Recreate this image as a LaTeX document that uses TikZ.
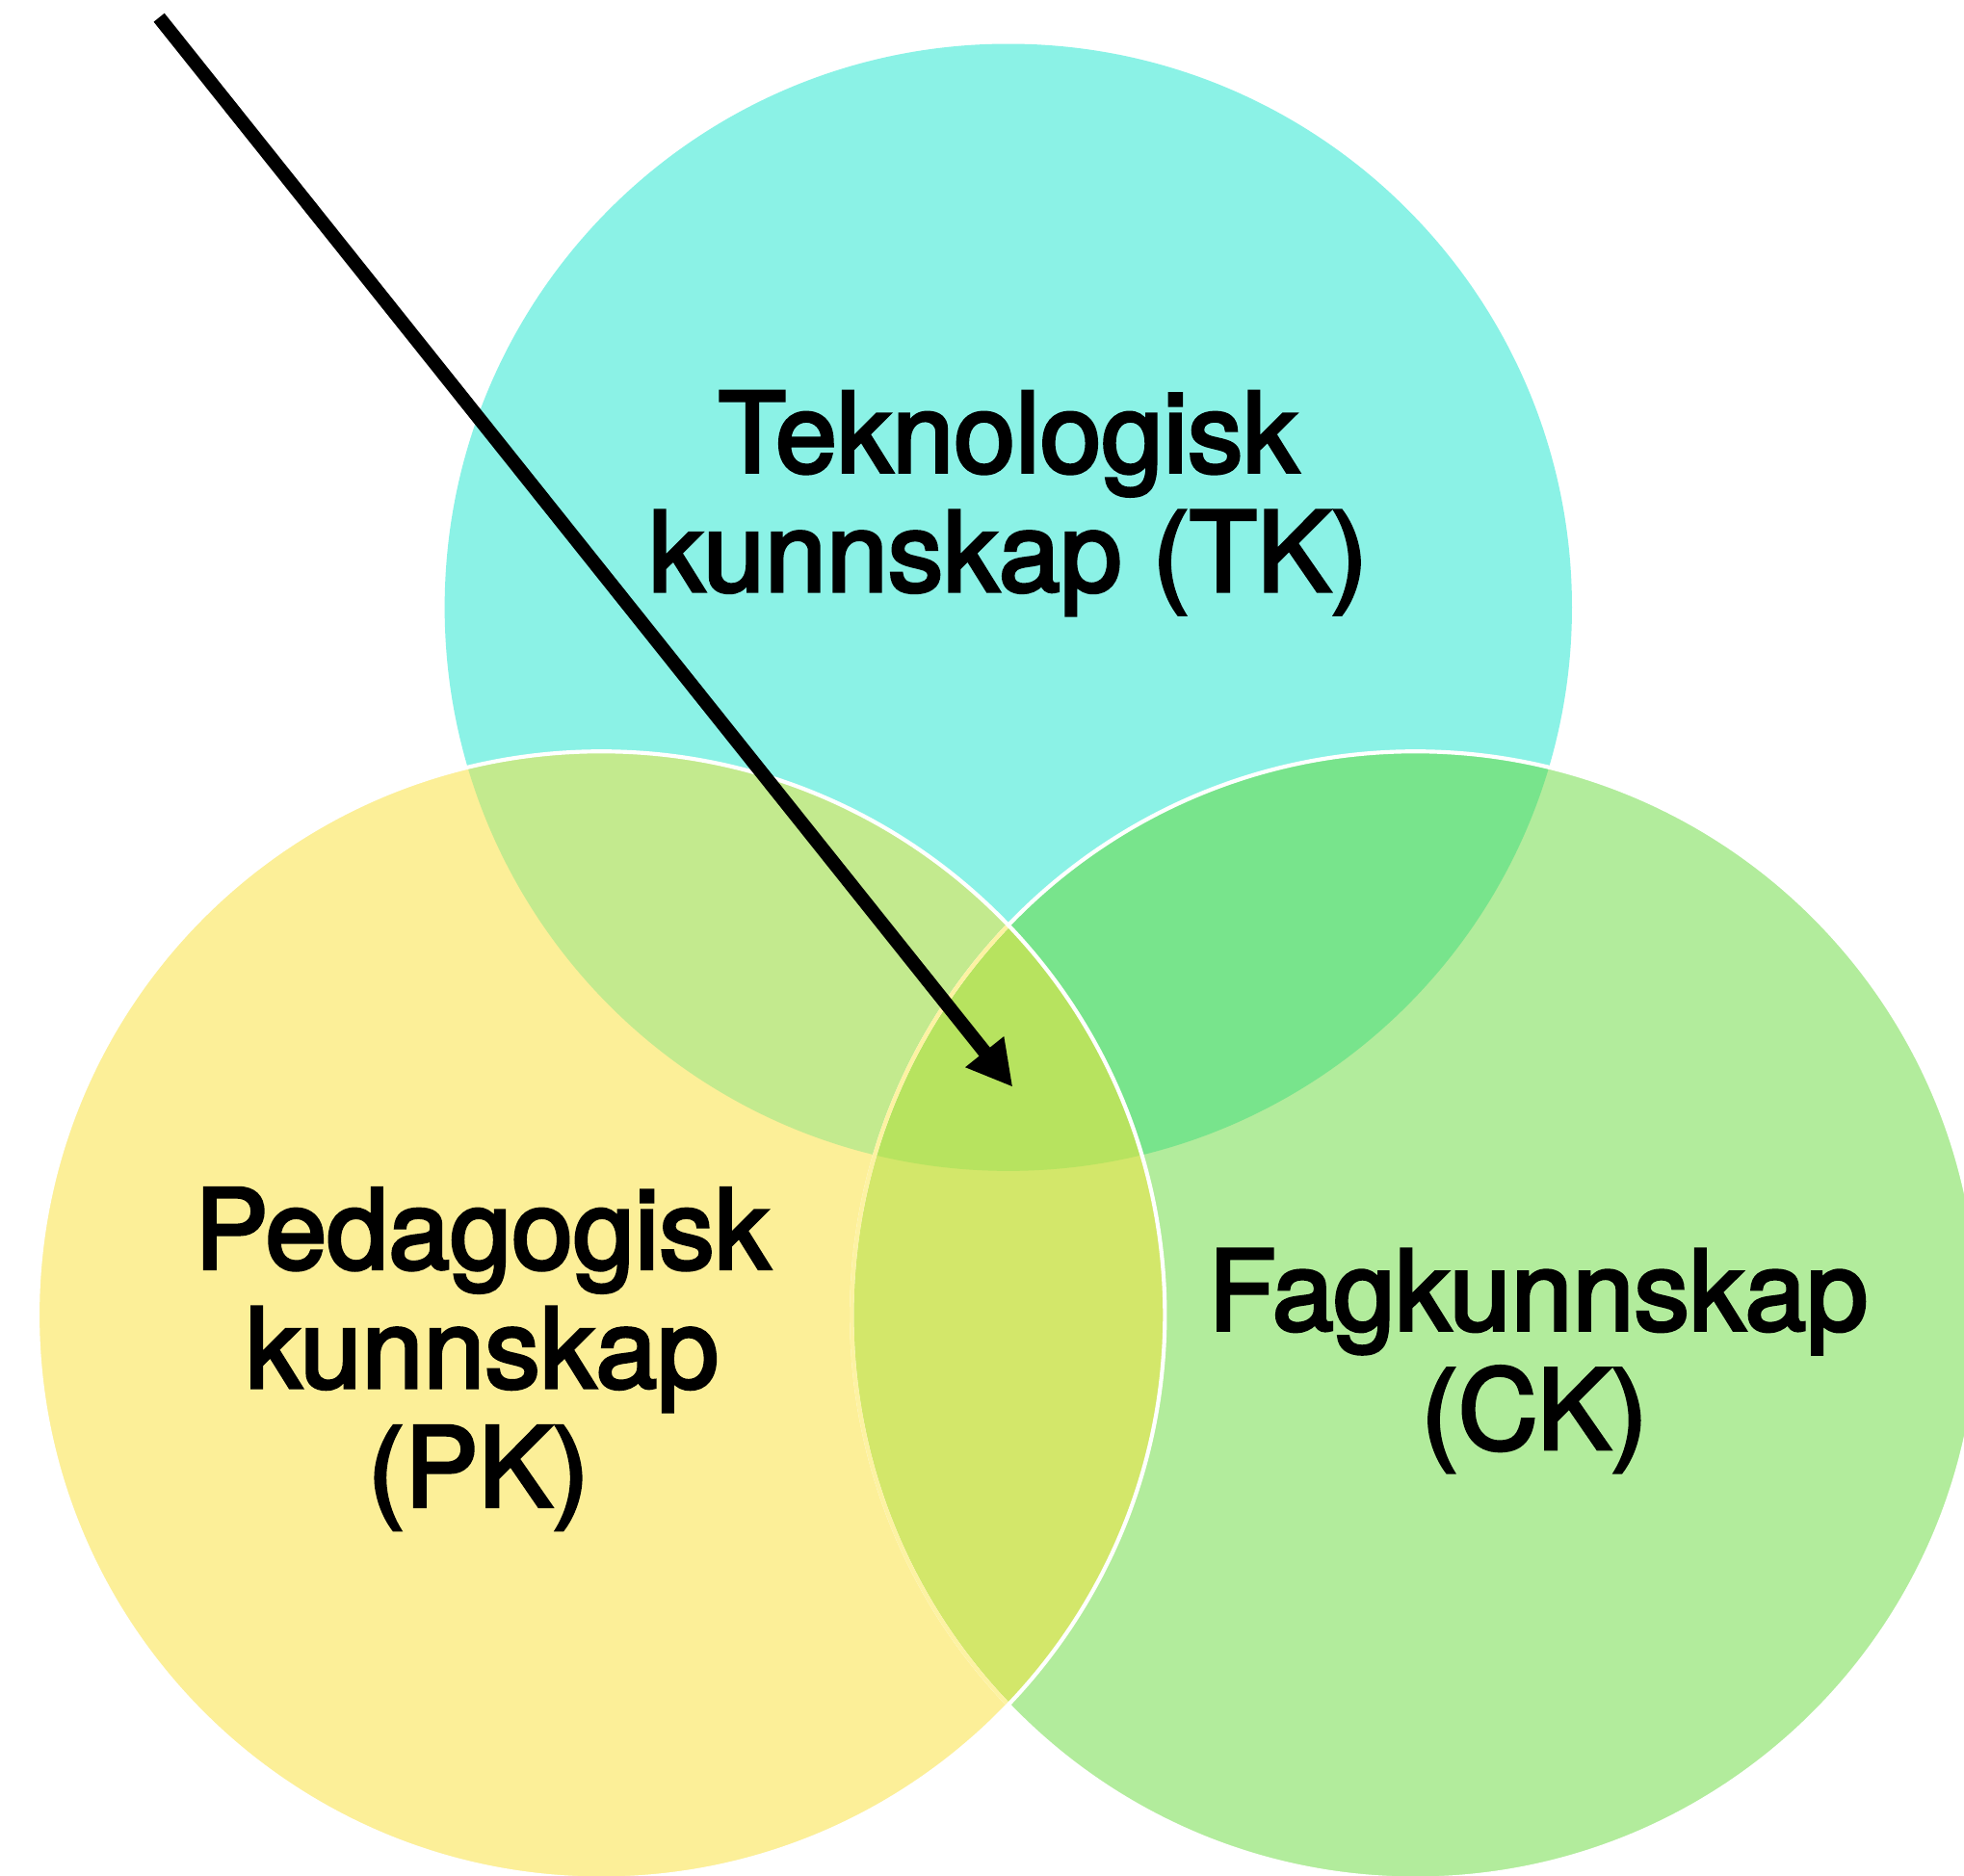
\documentclass[tikz,border=0pt]{standalone}
\usepackage{fontspec}
\newfontfamily\lblfont{TeX Gyre Heros}[FakeBold=3]
\usetikzlibrary{arrows.meta}
\definecolor{tkc}{HTML}{8BF2E6}
\definecolor{pkc}{HTML}{FCEF98}
\definecolor{ckc}{HTML}{B2EC9C}
\definecolor{tpc}{HTML}{C3EA8E}
\definecolor{tcc}{HTML}{78E48C}
\definecolor{pcc}{HTML}{D3E76A}
\definecolor{allc}{HTML}{B7E35F}
\definecolor{pkline}{HTML}{FDF2A2}
\begin{document}
\begin{tikzpicture}[x=0.5pt,y=-0.5pt,
  lbl/.style={font=\lblfont\fontsize{44.2}{48}\selectfont, anchor=base, inner sep=0pt},
  rim/.style={line width=1.6pt},
  arrowline/.style={line width=5.5pt, -{Triangle[length=18pt,width=18.4pt]}}]
\useasboundingbox (0,0) rectangle (1568,1498);
\clip (0,0) rectangle (1568,1498);
\def\tkpath{(805,485) circle[radius=450]}
\def\pkpath{(480,1050) circle[radius=450]}
\def\ckpath{(1130,1050) circle[radius=450]}
% base fills
\fill[tkc] \tkpath;
\fill[ckc] \ckpath;
\fill[pkc] \pkpath;
% pairwise overlaps with TK
\begin{scope}
  \clip \tkpath;
  \fill[tcc] \ckpath;
  \fill[tpc] \pkpath;
\end{scope}
% PK overlaps
\begin{scope}
  \clip \pkpath;
  \fill[pcc] \ckpath;
  \clip \tkpath;
  \fill[allc] \ckpath;
\end{scope}
% rims
\draw[rim, white] \ckpath;
\begin{scope}
  \clip \pkpath;
  \draw[rim, pkline] \ckpath;
\end{scope}
\draw[rim, white] \pkpath;
% arrow
\coordinate (as) at (127,14);
\coordinate (ae) at (808.5,868);
\draw[arrowline] (as) -- (ae);
% labels
\node[lbl] (tk1) at (805,377) {Teknologisk};
\node[lbl] (tk2) at (805,472) {kunnskap (TK)};
\node[lbl] (pk1) at (385,1013) {Pedagogisk};
\node[lbl] (pk2) at (385,1108) {kunnskap};
\node[lbl] (pk3) at (382,1203) {(PK)};
\node[lbl] (ck1) at (1228,1062) {Fagkunnskap};
\node[lbl] (ck2) at (1225,1157) {(CK)};
\end{tikzpicture}
\end{document}
